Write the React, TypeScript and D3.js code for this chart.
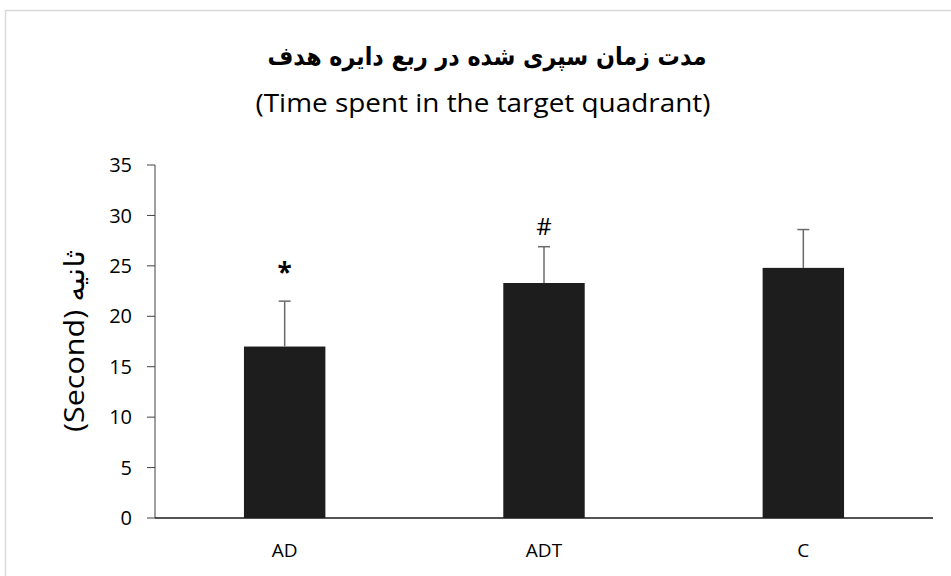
import React from 'react';
import * as d3 from 'd3';

// chart values
const groups = ['AD', 'ADT', 'C'];
const means = [17, 23.3, 24.8];
const errors = [4.5, 3.6, 3.8];
const marks = ['*', '#', ''];
const yTicks = [0, 5, 10, 15, 20, 25, 30, 35];

const title = 'مدت زمان سپری شده در ربع دایره هدف';
const subtitle = '(Time spent in the target quadrant)';
const yTitle = '(Second) ثانیه';

const W = 951;
const H = 576;
const left = 155;
const right = 933;
const top = 165;
const bottom = 518;

const App = () => {
  const x = d3.scaleBand().domain(groups).range([left, right]).paddingInner(0.686).paddingOuter(0.343);
  const y = d3.scaleLinear().domain([0, 35]).range([bottom, top]);
  const font = "'Open Sans', 'DejaVu Sans', sans-serif";
  const mid = (g: string) => (x(g) ?? 0) + x.bandwidth() / 2;

  return (
    <svg width={W} height={H} style={{ position: 'absolute', left: 0, top: 0, background: '#fff' }}>
      {/* outer frame */}
      <rect x={5.5} y={10.5} width={W} height={H} fill="none" stroke="#d9d9d9" strokeWidth={1.5} />

      <text x={487} y={65} textAnchor="middle" fontFamily="'DejaVu Sans', sans-serif" fontWeight="bold"
        fontSize={25} direction="rtl" textLength={439} lengthAdjust="spacingAndGlyphs">
        {title}
      </text>
      <text x={483} y={112} textAnchor="middle" fontFamily={font} fontSize={25}
        textLength={455} lengthAdjust="spacingAndGlyphs">
        {subtitle}
      </text>

      {/* y axis */}
      <line x1={left} x2={left} y1={top} y2={bottom} stroke="#404040" strokeWidth={1} />
      {yTicks.map(t => (
        <g key={t}>
          <line x1={left - 8} x2={left} y1={y(t)} y2={y(t)} stroke="#404040" />
          <text x={132} y={y(t)} dy="0.36em" textAnchor="end" fontFamily={font} fontSize={20}>{t}</text>
        </g>
      ))}
      <text transform={`translate(84, 341) rotate(-90)`} textAnchor="middle" fontFamily={font} fontSize={28}
        textLength={182} lengthAdjust="spacingAndGlyphs">
        {yTitle}
      </text>

      {/* bars */}
      {groups.map((g, i) => (
        <rect key={g} x={x(g)} y={y(means[i])} width={x.bandwidth()} height={bottom - y(means[i])} fill="#1d1d1d" />
      ))}

      {/* error bars */}
      {groups.map((g, i) => {
        const cx = mid(g);
        const yt = y(means[i] + errors[i]);
        return (
          <g key={g} stroke="#6b6b6b" strokeWidth={1.5}>
            <line x1={cx} x2={cx} y1={y(means[i])} y2={yt} />
            <line x1={cx - 6} x2={cx + 6} y1={yt} y2={yt} />
          </g>
        );
      })}

      {/* significance marks */}
      {groups.map((g, i) => (
        <text key={g} x={mid(g)} y={y(means[i] + errors[i]) - (marks[i] === '*' ? 19 : 12)} textAnchor="middle"
          fontFamily={font} fontSize={marks[i] === '*' ? 26 : 24} fontWeight={marks[i] === '*' ? 'bold' : 'normal'}>
          {marks[i]}
        </text>
      ))}

      {/* x axis */}
      <line x1={left} x2={right} y1={bottom} y2={bottom} stroke="#1a1a1a" strokeWidth={1.5} />
      {groups.map(g => (
        <text key={g} x={mid(g)} y={557} textAnchor="middle" fontFamily={font} fontSize={19}>{g}</text>
      ))}
    </svg>
  );
};

export default App;
